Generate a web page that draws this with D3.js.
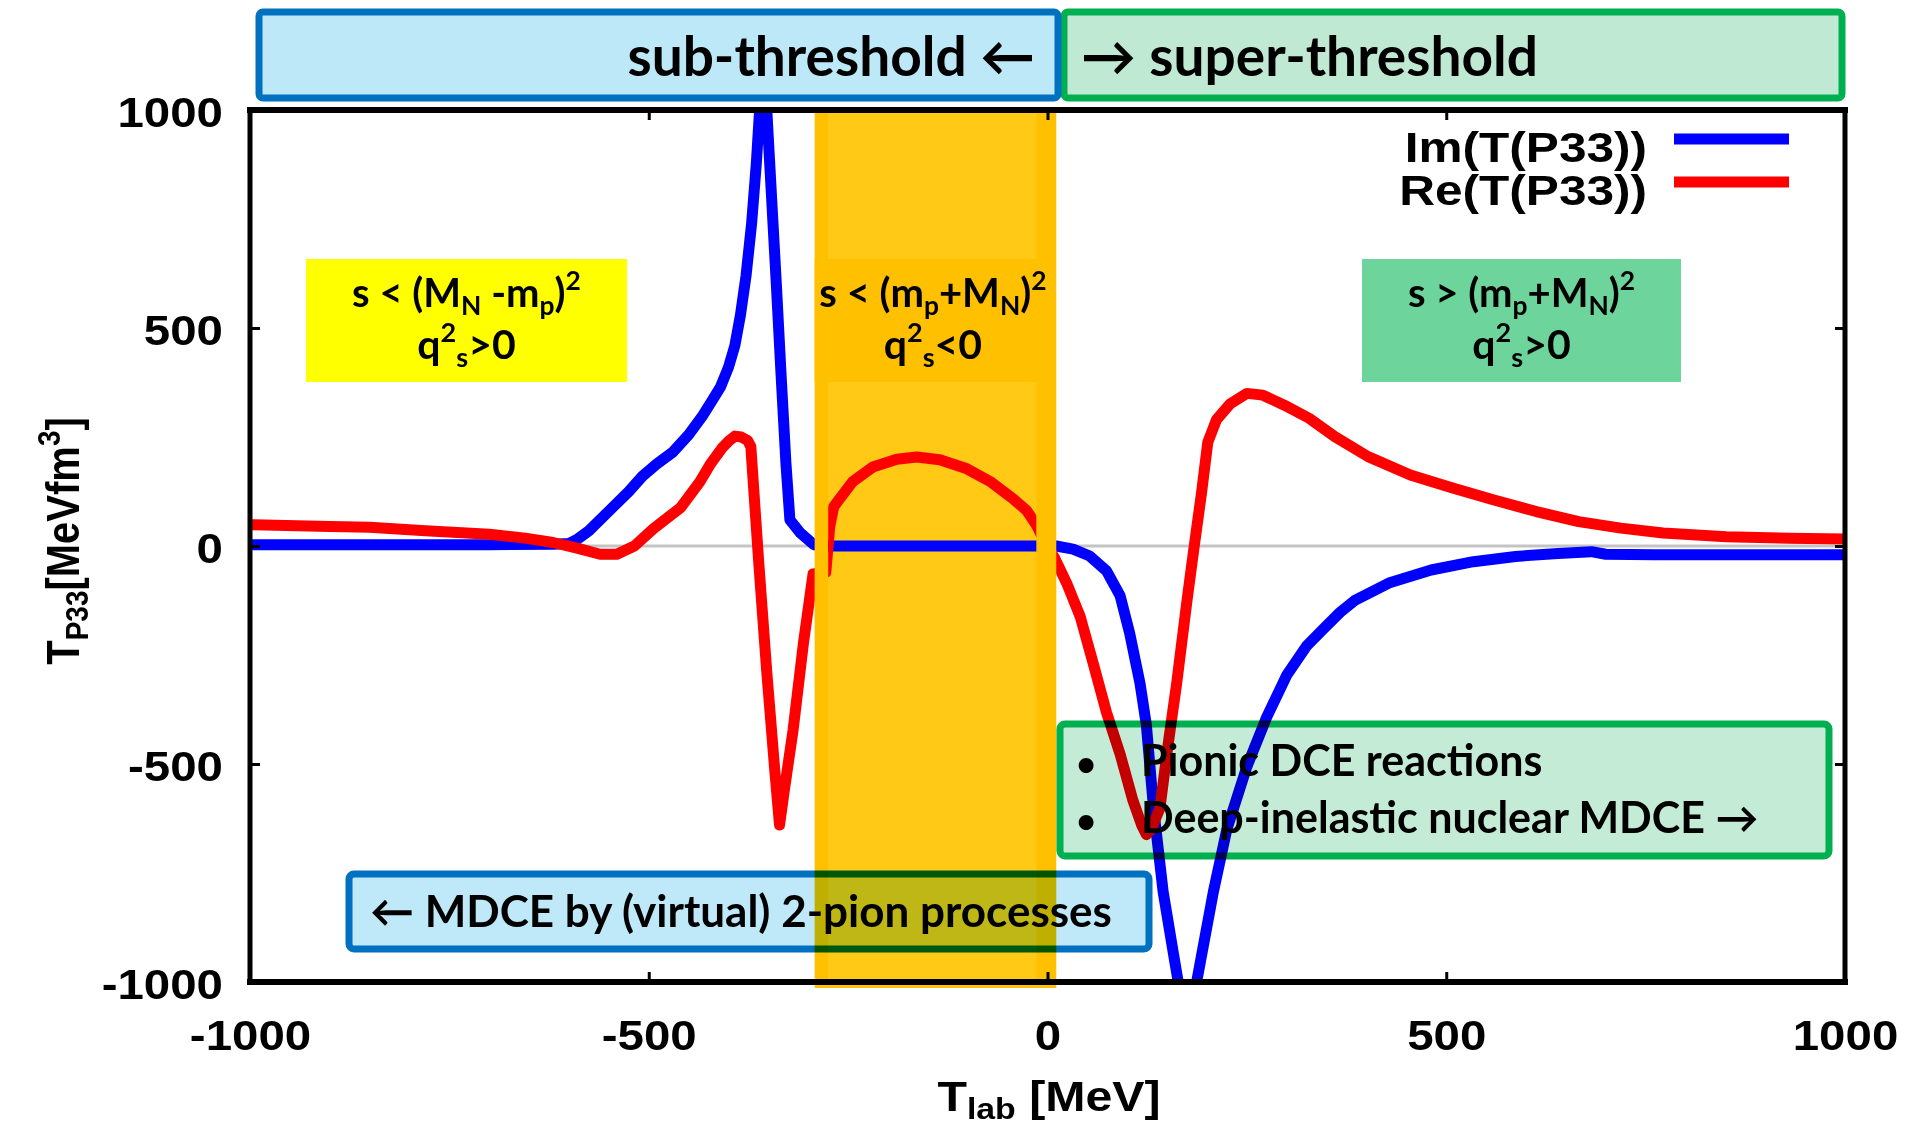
<!DOCTYPE html>
<html>
<head>
<meta charset="utf-8">
<script src="https://cdn.jsdelivr.net/npm/d3@7"></script>
<style>
  html, body { margin: 0; padding: 0; background: #fff; }
  svg { display: block; }
  text { white-space: pre; }
</style>
</head>
<body>
<svg id="chart" width="1913" height="1124"></svg>
<script>
// ---- axis ticks ----
const xTicks = [-1000, -500, 0, 500, 1000];
const xTickLabels = ["-1000", "-500", "0", "500", "1000"];
const yTicks = [-1000, -500, 0, 500, 1000];
const yTickLabels = ["-1000", "-500", "0", "500", "1000"];

// ---- series: [T_lab (MeV), T_P33 (MeV fm^3)] ----
const seriesNames = ["Im(T(P33))", "Re(T(P33))"];

const imT = [
  [-1000, 3], [-900, 3], [-800, 3], [-700, 3], [-620, 4], [-600, 6], [-590, 15],
  [-575, 35], [-550, 80], [-525, 125], [-508, 160], [-490, 188], [-470, 215],
  [-450, 255], [-432, 300], [-420, 335], [-410, 365], [-400, 410], [-392, 460],
  [-385, 530], [-378, 620], [-371, 740], [-365, 880], [-361, 1000], [-357, 1130],
  [-352, 1000], [-346, 800], [-340, 600], [-334, 390], [-328, 190], [-323, 60],
  [-310, 30], [-293, 3], [-280, 0], [-200, 0], [-100, 0], [-14, 0], [11, 0],
  [32, -7], [53, -23], [74, -57], [91, -114], [103, -200], [116, -315], [124, -411],
  [133, -602], [145, -793], [158, -936], [175, -1120], [187, -1000], [208, -793],
  [225, -649], [250, -506], [275, -392], [300, -296], [325, -229], [346, -190],
  [367, -152], [386, -124], [428, -85], [481, -55], [534, -36], [587, -24],
  [640, -17], [682, -13], [700, -19], [760, -20], [850, -20], [1000, -20]
];

const reT = [
  [-1000, 49], [-900, 45], [-850, 43], [-780, 35], [-700, 27], [-655, 18], [-620, 8],
  [-590, -5], [-561, -19], [-540, -19], [-518, 0], [-494, 40], [-460, 88], [-436, 147],
  [-422, 190], [-408, 225], [-400, 240], [-392, 252], [-384, 250], [-376, 242],
  [-372, 228], [-368, 120], [-362, -40], [-352, -289], [-342, -514], [-336, -640],
  [-330, -560], [-319, -422], [-306, -222], [-294, -64], [-278, -60], [-273, 45],
  [-268, 90], [-260, 110], [-244, 148], [-219, 181], [-189, 199], [-164, 204],
  [-135, 198], [-101, 177], [-72, 148], [-43, 108], [-26, 81], [-14, 48], [-2, 5],
  [9, -28], [24, -85], [41, -162], [57, -267], [74, -382], [91, -477], [107, -583],
  [118, -640], [124, -662], [130, -650], [141, -601], [151, -458], [162, -315],
  [175, -124], [184, 0], [193, 120], [201, 238], [212, 290], [229, 326], [250, 350],
  [270, 346], [297, 323], [328, 293], [360, 251], [402, 205], [455, 163], [508, 133],
  [561, 105], [613, 79], [666, 56], [719, 41], [772, 30], [851, 21], [930, 18], [1000, 16]
];

// energies between the two thresholds (shaded), and the part of it where the curves are shown
const unphysicalRange = [-292, 11];
const visibleWindow = [-275, -14];

// ---- layout ----
const plot = { left: 250, right: 1845, top: 110, bottom: 982 };
const GNU = "'Liberation Sans', Arial, sans-serif";
const OFFICE = "Lato, 'Open Sans', sans-serif";
const CURVE_W = 11;

const svg = d3.select("#chart");
const x = d3.scaleLinear().domain([-1000, 1000]).range([plot.left, plot.right]);
const y = d3.scaleLinear().domain([-1000, 1000]).range([plot.bottom, plot.top]);

const defs = svg.append("defs");
defs.append("clipPath").attr("id", "plotClip").append("rect")
  .attr("x", plot.left).attr("y", plot.top)
  .attr("width", plot.right - plot.left).attr("height", plot.bottom - plot.top);
defs.append("clipPath").attr("id", "windowClip").append("rect")
  .attr("x", x(visibleWindow[0])).attr("y", plot.top)
  .attr("width", x(visibleWindow[1]) - x(visibleWindow[0])).attr("height", plot.bottom - plot.top);

svg.append("rect").attr("width", 1913).attr("height", 1124).attr("fill", "#fff");

const line = d3.line().x(d => x(d[0])).y(d => y(d[1]));

function drawCurves(g) {
  g.append("path").datum(imT).attr("d", line)
    .attr("fill", "none").attr("stroke", "#0000ff").attr("stroke-width", CURVE_W)
    .attr("stroke-linejoin", "round");
  g.append("path").datum(reT).attr("d", line)
    .attr("fill", "none").attr("stroke", "#ff0000").attr("stroke-width", CURVE_W)
    .attr("stroke-linejoin", "round");
}

// zero line
svg.append("line")
  .attr("x1", plot.left).attr("x2", plot.right).attr("y1", y(0)).attr("y2", y(0))
  .attr("stroke", "#c4c4c4").attr("stroke-width", 3);

// curves
drawCurves(svg.append("g").attr("clip-path", "url(#plotClip)"));

// shaded band between the thresholds
svg.append("rect")
  .attr("x", x(unphysicalRange[0])).attr("y", plot.top - 2)
  .attr("width", x(unphysicalRange[1]) - x(unphysicalRange[0]))
  .attr("height", plot.bottom - plot.top + 8)
  .attr("fill", "#ffc000");
svg.append("rect")
  .attr("x", x(visibleWindow[0])).attr("y", plot.top)
  .attr("width", x(visibleWindow[1]) - x(visibleWindow[0]))
  .attr("height", plot.bottom - plot.top)
  .attr("fill", "#ffc915");
const winG = svg.append("g").attr("clip-path", "url(#windowClip)");
drawCurves(winG);

// rich text helper: segments with optional sub/superscripts
function rich(parent, px, py, segs, size, anchor, family, scriptScale = 0.62) {
  const t = parent.append("text")
    .attr("x", px).attr("y", py)
    .attr("text-anchor", anchor)
    .attr("font-family", family)
    .attr("font-weight", 700)
    .attr("font-size", size)
    .attr("fill", "#000");
  let cur = 0;
  segs.forEach(s => {
    const shift = s.sup ? -0.42 * size : s.sub ? 0.2 * size : 0;
    const ts = t.append("tspan").text(s.t).attr("dy", shift - cur);
    if (s.sup || s.sub) ts.attr("font-size", size * scriptScale);
    cur = shift;
  });
  return t;
}

// region label boxes
const regionBoxes = [
  { x0: 306, x1: 627, fill: "#ffff00",
    l1: [{ t: "s < (M" }, { t: "N", sub: 1 }, { t: " -m" }, { t: "p", sub: 1 }, { t: ")" }, { t: "2", sup: 1 }],
    l2: [{ t: "q" }, { t: "2", sup: 1 }, { t: "s", sub: 1 }, { t: ">0" }] },
  { x0: x(unphysicalRange[0]), x1: x(unphysicalRange[1]) - 5, fill: "#ffc000",
    l1: [{ t: "s < (m" }, { t: "p", sub: 1 }, { t: "+M" }, { t: "N", sub: 1 }, { t: ")" }, { t: "2", sup: 1 }],
    l2: [{ t: "q" }, { t: "2", sup: 1 }, { t: "s", sub: 1 }, { t: "<0" }] },
  { x0: 1362, x1: 1681, fill: "#6dd49c",
    l1: [{ t: "s > (m" }, { t: "p", sub: 1 }, { t: "+M" }, { t: "N", sub: 1 }, { t: ")" }, { t: "2", sup: 1 }],
    l2: [{ t: "q" }, { t: "2", sup: 1 }, { t: "s", sub: 1 }, { t: ">0" }] }
];
regionBoxes.forEach(b => {
  svg.append("rect").attr("x", b.x0).attr("y", 259).attr("width", b.x1 - b.x0).attr("height", 123)
    .attr("fill", b.fill);
  const cx = (b.x0 + b.x1) / 2;
  rich(svg, cx, 307, b.l1, 40, "middle", OFFICE, 0.66);
  rich(svg, cx, 359, b.l2, 41, "middle", OFFICE, 0.66);
});

// frame
const frame = svg.append("g").attr("stroke", "#000").attr("stroke-linecap", "square");
frame.append("line").attr("x1", plot.left).attr("x2", plot.right).attr("y1", plot.top).attr("y2", plot.top).attr("stroke-width", 6);
frame.append("line").attr("x1", plot.left).attr("x2", plot.right).attr("y1", plot.bottom).attr("y2", plot.bottom).attr("stroke-width", 6);
frame.append("line").attr("x1", plot.left).attr("x2", plot.left).attr("y1", plot.top).attr("y2", plot.bottom).attr("stroke-width", 5);
frame.append("line").attr("x1", plot.right).attr("x2", plot.right).attr("y1", plot.top).attr("y2", plot.bottom).attr("stroke-width", 5);

// inward tick marks on all four sides
function tickMarks(axis, tx, ty) {
  const g = svg.append("g").attr("transform", `translate(${tx},${ty})`)
    .call(axis.tickSize(-10).tickFormat(""));
  g.select(".domain").remove();
  g.selectAll(".tick line").attr("stroke", "#000").attr("stroke-width", 3);
}
tickMarks(d3.axisBottom(x).tickValues(xTicks), 0, plot.bottom);
tickMarks(d3.axisTop(x).tickValues(xTicks), 0, plot.top);
tickMarks(d3.axisLeft(y).tickValues(yTicks), plot.left, 0);
tickMarks(d3.axisRight(y).tickValues(yTicks), plot.right, 0);

// tick labels
const gx = svg.append("g").attr("transform", `translate(0,${plot.bottom})`)
  .call(d3.axisBottom(x).tickValues(xTicks).tickSize(0).tickFormat((d, i) => xTickLabels[i]));
gx.select(".domain").remove();
gx.selectAll("text")
  .attr("y", null).attr("dy", null)
  .attr("transform", "translate(0,68) scale(1.13,1)")
  .attr("font-family", GNU).attr("font-weight", 700).attr("font-size", 42).attr("fill", "#000");

const gy = svg.append("g").attr("transform", `translate(${plot.left},0)`)
  .call(d3.axisLeft(y).tickValues(yTicks).tickSize(0).tickFormat((d, i) => yTickLabels[i]));
gy.select(".domain").remove();
gy.selectAll("text")
  .attr("x", null).attr("dy", "0.4em")
  .attr("transform", "translate(-27,0) scale(1.13,1)")
  .attr("text-anchor", "end")
  .attr("font-family", GNU).attr("font-weight", 700).attr("font-size", 42).attr("fill", "#000");

// axis titles
rich(svg.append("g").attr("transform", "translate(1049,1111) scale(1.15,1)"), 0, 0,
  [{ t: "T" }, { t: "lab", sub: 1 }, { t: " [MeV]" }], 42, "middle", GNU, 0.7);
rich(svg.append("g").attr("transform", "translate(79,541) scale(1.15,1) rotate(-90)"), 0, 0,
  [{ t: "T" }, { t: "P33", sub: 1 }, { t: "[MeVfm" }, { t: "3", sup: 1 }, { t: "]" }], 40, "middle", GNU, 0.7);

// legend
const legendColors = ["#0000ff", "#ff0000"];
seriesNames.forEach((name, i) => {
  const ly = 139 + i * 43;
  svg.append("g").attr("transform", `translate(1647,${ly + 23}) scale(1.18,1)`)
    .append("text").text(name)
    .attr("text-anchor", "end")
    .attr("font-family", GNU).attr("font-weight", 700).attr("font-size", 42).attr("fill", "#000");
  svg.append("line").attr("x1", 1674).attr("x2", 1789).attr("y1", ly).attr("y2", ly)
    .attr("stroke", legendColors[i]).attr("stroke-width", CURVE_W);
});

// header boxes
svg.append("rect").attr("x", 1064).attr("y", 12).attr("width", 778).attr("height", 86).attr("rx", 4)
  .attr("fill", "#bfe9d3").attr("stroke", "#00b050").attr("stroke-width", 7);
svg.append("rect").attr("x", 259).attr("y", 12).attr("width", 799).attr("height", 86).attr("rx", 4)
  .attr("fill", "#bce8f7").attr("stroke", "#0070c0").attr("stroke-width", 7);
svg.append("text").text("sub-threshold \u2190")
  .attr("x", 1035).attr("y", 76).attr("text-anchor", "end")
  .attr("font-family", OFFICE).attr("font-weight", 700).attr("font-size", 55).attr("fill", "#000");
svg.append("text").text("\u2192 super-threshold")
  .attr("x", 1081).attr("y", 76).attr("text-anchor", "start")
  .attr("font-family", OFFICE).attr("font-weight", 700).attr("font-size", 55).attr("fill", "#000");

// process boxes (tinted, curves show through)
svg.append("rect").attr("x", 1060).attr("y", 724).attr("width", 769).attr("height", 132).attr("rx", 5)
  .attr("fill", "#c3ebd6").attr("stroke", "#00b050").attr("stroke-width", 7)
  .style("mix-blend-mode", "multiply");
[["Pionic DCE reactions", 776], ["Deep-inelastic nuclear MDCE \u2192", 833]].forEach(([t, by]) => {
  svg.append("text").text("\u2022").attr("x", 1086).attr("y", by).attr("text-anchor", "middle")
    .attr("font-family", OFFICE).attr("font-weight", 700).attr("font-size", 34).attr("fill", "#000");
  svg.append("text").text(t).attr("x", 1141).attr("y", by)
    .attr("font-family", OFFICE).attr("font-weight", 700).attr("font-size", 43).attr("fill", "#000");
});

svg.append("rect").attr("x", 349).attr("y", 874).attr("width", 800).attr("height", 75).attr("rx", 5)
  .attr("fill", "#bfe9f8").attr("stroke", "#0070c0").attr("stroke-width", 7)
  .style("mix-blend-mode", "multiply");
svg.append("text").text("\u2190 MDCE by (virtual) 2-pion processes")
  .attr("x", 370).attr("y", 927)
  .attr("font-family", OFFICE).attr("font-weight", 700).attr("font-size", 44).attr("fill", "#000");
</script>
</body>
</html>
